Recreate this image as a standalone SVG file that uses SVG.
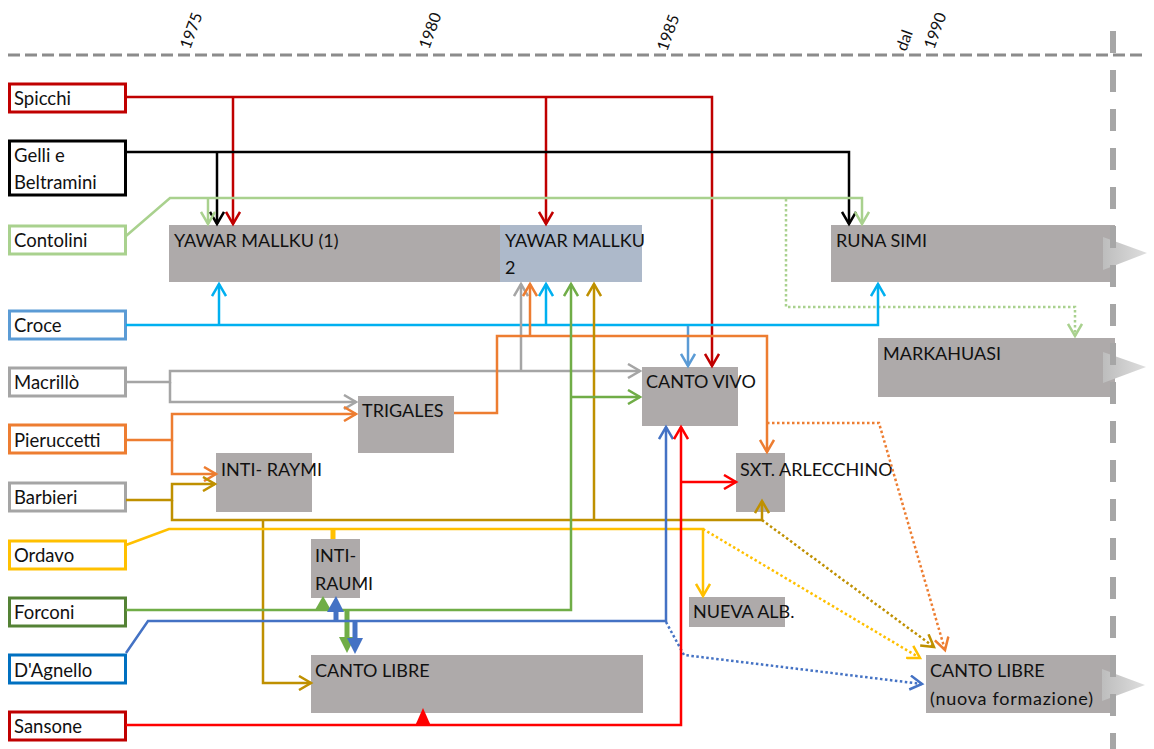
<svg xmlns="http://www.w3.org/2000/svg" width="1154" height="749" viewBox="0 0 1154 749">
<style>
text{font-family:Lato,"Open Sans","Liberation Sans",sans-serif;fill:#111}
.lbl{font-size:18.5px}
.bt{font-size:18px}
.yr{font-size:16px}
.src{fill:#fff;stroke-width:3}
.band{fill:#aeaaaa}
.c{fill:none;stroke-width:2.5}
.dot{stroke-dasharray:2.5 2.5}
</style>
<defs>
<linearGradient id="tg" x1="0" y1="0" x2="1" y2="0"><stop offset="0" stop-color="#bdbdbd"/><stop offset="1" stop-color="#dedede"/></linearGradient>
<marker id="m-dr" markerUnits="userSpaceOnUse" markerWidth="16" markerHeight="16" refX="13" refY="8" orient="auto" viewBox="0 0 16 16"><path d="M1,1 L13,8 L1,15" fill="none" stroke="#c00000" stroke-width="2.5"/></marker>
<marker id="m-bk" markerUnits="userSpaceOnUse" markerWidth="16" markerHeight="16" refX="13" refY="8" orient="auto" viewBox="0 0 16 16"><path d="M1,1 L13,8 L1,15" fill="none" stroke="#000" stroke-width="2.5"/></marker>
<marker id="m-lg" markerUnits="userSpaceOnUse" markerWidth="16" markerHeight="16" refX="13" refY="8" orient="auto" viewBox="0 0 16 16"><path d="M1,1 L13,8 L1,15" fill="none" stroke="#a9d18e" stroke-width="2.5"/></marker>
<marker id="m-cy" markerUnits="userSpaceOnUse" markerWidth="16" markerHeight="16" refX="13" refY="8" orient="auto" viewBox="0 0 16 16"><path d="M1,1 L13,8 L1,15" fill="none" stroke="#00b0f0" stroke-width="2.5"/></marker>
<marker id="m-lb" markerUnits="userSpaceOnUse" markerWidth="16" markerHeight="16" refX="13" refY="8" orient="auto" viewBox="0 0 16 16"><path d="M1,1 L13,8 L1,15" fill="none" stroke="#5b9bd5" stroke-width="2.5"/></marker>
<marker id="m-gy" markerUnits="userSpaceOnUse" markerWidth="16" markerHeight="16" refX="13" refY="8" orient="auto" viewBox="0 0 16 16"><path d="M1,1 L13,8 L1,15" fill="none" stroke="#a5a5a5" stroke-width="2.5"/></marker>
<marker id="m-or" markerUnits="userSpaceOnUse" markerWidth="16" markerHeight="16" refX="13" refY="8" orient="auto" viewBox="0 0 16 16"><path d="M1,1 L13,8 L1,15" fill="none" stroke="#ed7d31" stroke-width="2.5"/></marker>
<marker id="m-gd" markerUnits="userSpaceOnUse" markerWidth="16" markerHeight="16" refX="13" refY="8" orient="auto" viewBox="0 0 16 16"><path d="M1,1 L13,8 L1,15" fill="none" stroke="#bf9000" stroke-width="2.5"/></marker>
<marker id="m-ye" markerUnits="userSpaceOnUse" markerWidth="16" markerHeight="16" refX="13" refY="8" orient="auto" viewBox="0 0 16 16"><path d="M1,1 L13,8 L1,15" fill="none" stroke="#ffc000" stroke-width="2.5"/></marker>
<marker id="m-gr" markerUnits="userSpaceOnUse" markerWidth="16" markerHeight="16" refX="13" refY="8" orient="auto" viewBox="0 0 16 16"><path d="M1,1 L13,8 L1,15" fill="none" stroke="#70ad47" stroke-width="2.5"/></marker>
<marker id="m-bl" markerUnits="userSpaceOnUse" markerWidth="16" markerHeight="16" refX="13" refY="8" orient="auto" viewBox="0 0 16 16"><path d="M1,1 L13,8 L1,15" fill="none" stroke="#4472c4" stroke-width="2.5"/></marker>
<marker id="m-rd" markerUnits="userSpaceOnUse" markerWidth="16" markerHeight="16" refX="13" refY="8" orient="auto" viewBox="0 0 16 16"><path d="M1,1 L13,8 L1,15" fill="none" stroke="#ff0000" stroke-width="2.5"/></marker>
</defs>

<g id="axis">
<line x1="8" y1="55" x2="1145" y2="55" stroke="#8c8c8c" stroke-width="3" stroke-dasharray="12 5"/>
<text class="yr" transform="translate(190,50) rotate(-70)">1975</text>
<text class="yr" transform="translate(429,50) rotate(-70)">1980</text>
<text class="yr" transform="translate(667,52) rotate(-70)">1985</text>
<text class="yr" transform="translate(906,52) rotate(-70)">dal</text>
<text class="yr" transform="translate(934,50) rotate(-70)">1990</text>
</g>

<g id="bands">
<g id="yawar1"><rect class="band" x="169" y="225" width="331" height="57"/><text class="bt" x="174" y="247">YAWAR MALLKU (1)</text></g>
<g id="yawar2"><rect x="500" y="225" width="142" height="57" fill="#adb9ca"/><text class="bt" x="505" y="247">YAWAR MALLKU</text><text class="bt" x="505" y="274">2</text></g>
<g id="runasimi"><rect class="band" x="831" y="225" width="284" height="57"/><text class="bt" x="836" y="247">RUNA SIMI</text><polygon points="1103,237 1147,253 1103,270" fill="url(#tg)"/></g>
<g id="markahuasi"><rect class="band" x="878" y="338" width="237" height="59"/><text class="bt" x="883" y="360">MARKAHUASI</text><polygon points="1103,352 1146,367 1103,383" fill="url(#tg)"/></g>
<g id="cantovivo"><rect class="band" x="642" y="367" width="96" height="59"/><text class="bt" x="646" y="388">CANTO VIVO</text></g>
<g id="trigales"><rect class="band" x="358" y="396" width="96" height="57"/><text class="bt" x="362" y="417">TRIGALES</text></g>
<g id="intiraymi"><rect class="band" x="216" y="453" width="96" height="59"/><text class="bt" x="221" y="476">INTI- RAYMI</text></g>
<g id="arlecchino"><rect class="band" x="736" y="453" width="49" height="59"/><text class="bt" x="740" y="476">SXT. ARLECCHINO</text></g>
<g id="intiraumi"><rect class="band" x="311" y="539" width="49" height="59"/><text class="bt" x="315" y="562">INTI-</text><text class="bt" x="315" y="590">RAUMI</text></g>
<g id="nuevaalb"><rect class="band" x="689" y="597" width="96" height="30"/><text class="bt" x="693" y="618">NUEVA ALB.</text></g>
<g id="cantolibre"><rect class="band" x="311" y="655" width="332" height="58"/><text class="bt" x="315" y="677">CANTO LIBRE</text></g>
<g id="cantolibre2"><rect class="band" x="926" y="655" width="187" height="58"/><text class="bt" x="930" y="677">CANTO LIBRE</text><text class="bt" x="930" y="705" textLength="163" lengthAdjust="spacing">(nuova formazione)</text><polygon points="1102,669 1145,685 1102,701" fill="url(#tg)"/></g>
</g>

<g id="sources">
<g id="spicchi"><rect class="src" x="9.5" y="84" width="116" height="28" stroke="#c00000"/><text class="lbl" x="14" y="105">Spicchi</text></g>
<g id="gelli"><rect class="src" x="9.5" y="141" width="116" height="54" stroke="#000"/><text class="lbl" x="14" y="162">Gelli e</text><text class="lbl" x="14" y="189">Beltramini</text></g>
<g id="contolini"><rect class="src" x="9.5" y="226" width="116" height="28" stroke="#a9d18e"/><text class="lbl" x="14" y="247">Contolini</text></g>
<g id="croce"><rect class="src" x="9.5" y="311" width="116" height="28" stroke="#5b9bd5"/><text class="lbl" x="14" y="332">Croce</text></g>
<g id="macrillo"><rect class="src" x="9.5" y="368" width="116" height="28" stroke="#a5a5a5"/><text class="lbl" x="14" y="389">Macrillò</text></g>
<g id="pieruccetti"><rect class="src" x="9.5" y="425" width="116" height="28" stroke="#ed7d31"/><text class="lbl" x="14" y="447">Pieruccetti</text></g>
<g id="barbieri"><rect class="src" x="9.5" y="483" width="116" height="28" stroke="#a5a5a5"/><text class="lbl" x="14" y="504">Barbieri</text></g>
<g id="ordavo"><rect class="src" x="9.5" y="541" width="116" height="28" stroke="#ffc000"/><text class="lbl" x="14" y="562">Ordavo</text></g>
<g id="forconi"><rect class="src" x="9.5" y="598" width="116" height="28" stroke="#548235"/><text class="lbl" x="14" y="619">Forconi</text></g>
<g id="dagnello"><rect class="src" x="9.5" y="655" width="116" height="28" stroke="#0070c0"/><text class="lbl" x="14" y="677">D'Agnello</text></g>
<g id="sansone"><rect class="src" x="9.5" y="712" width="116" height="28" stroke="#c00000"/><text class="lbl" x="14" y="733">Sansone</text></g>
</g>

<g id="connectors">
<path class="c" stroke="#c00000" d="M126,97 H712 V366" marker-end="url(#m-dr)"/>
<path class="c" stroke="#c00000" d="M233,97 V224" marker-end="url(#m-dr)"/>
<path class="c" stroke="#c00000" d="M546,97 V224" marker-end="url(#m-dr)"/>
<path class="c" stroke="#000" d="M126,152 H849 V224" marker-end="url(#m-bk)"/>
<path class="c" stroke="#000" d="M217,152 V224" marker-end="url(#m-bk)"/>
<path class="c" stroke="#a9d18e" d="M126,236 L170,198 H862 V224" marker-end="url(#m-lg)"/>
<path class="c" stroke="#a9d18e" d="M208,198 V224" marker-end="url(#m-lg)"/>
<path class="c dot" stroke="#a9d18e" d="M786,199 V307 H1075 V336" marker-end="url(#m-lg)"/>
<path class="c" stroke="#00b0f0" d="M126,325 H878 V284" marker-end="url(#m-cy)"/>
<path class="c" stroke="#00b0f0" d="M219,325 V284" marker-end="url(#m-cy)"/>
<path class="c" stroke="#00b0f0" d="M546,325 V284" marker-end="url(#m-cy)"/>
<path class="c" stroke="#5b9bd5" d="M688,326 V366" marker-end="url(#m-lb)"/>
<path class="c" stroke="#a5a5a5" d="M126,382 H170 V371 H640" marker-end="url(#m-gy)"/>
<path class="c" stroke="#a5a5a5" d="M170,382 V402 H356" marker-end="url(#m-gy)"/>
<path class="c" stroke="#a5a5a5" d="M521,371 V284" marker-end="url(#m-gy)"/>
<path class="c" stroke="#ed7d31" d="M126,440 H172 V414 H356" marker-end="url(#m-or)"/>
<path class="c" stroke="#ed7d31" d="M172,440 V474 H216" marker-end="url(#m-or)"/>
<path class="c" stroke="#ed7d31" d="M454,413 H497 V336 H767 V452" marker-end="url(#m-or)"/>
<path class="c" stroke="#ed7d31" d="M530,336 V284" marker-end="url(#m-or)"/>
<path class="c dot" stroke="#ed7d31" d="M767,423 H879 L945,650" marker-end="url(#m-or)"/>
<path class="c" stroke="#bf9000" d="M126,500 H172 V484 H215" marker-end="url(#m-gd)"/>
<path class="c" stroke="#bf9000" d="M172,500 V520 H762 V501" marker-end="url(#m-gd)"/>
<path class="c" stroke="#bf9000" d="M594,520 V284" marker-end="url(#m-gd)"/>
<path class="c" stroke="#bf9000" d="M263,520 V683 H311" marker-end="url(#m-gd)"/>
<path class="c dot" stroke="#bf9000" d="M762,520 L934,647" marker-end="url(#m-gd)"/>
<path class="c" stroke="#ffc000" d="M126,545 L169,529 H703 V596" marker-end="url(#m-ye)"/>
<path stroke="#ffc000" stroke-width="5" d="M333,529 V539"/>
<path class="c dot" stroke="#ffc000" d="M703,529 L920,658" marker-end="url(#m-ye)"/>
<path class="c" stroke="#70ad47" d="M126,610 H571 V284" marker-end="url(#m-gr)"/>
<path class="c" stroke="#70ad47" d="M571,397 H640" marker-end="url(#m-gr)"/>
<polygon points="315,610 331,610 323,596" fill="#70ad47"/>
<path stroke="#70ad47" stroke-width="5" d="M347,611 V638"/>
<polygon points="339,637 355,637 347,653" fill="#70ad47"/>
<path class="c" stroke="#4472c4" d="M126,653 L148,621 H666 V427" marker-end="url(#m-bl)"/>
<path class="c dot" stroke="#4472c4" d="M666,622 L684,655 L922,684" marker-end="url(#m-bl)"/>
<path stroke="#4472c4" stroke-width="5" d="M336,611 V622"/>
<polygon points="327,612 344,612 336,596" fill="#4472c4"/>
<path stroke="#4472c4" stroke-width="5" d="M355,622 V640"/>
<polygon points="347,638 363,638 355,654" fill="#4472c4"/>
<path class="c" stroke="#ff0000" d="M126,725 H681 V427" marker-end="url(#m-rd)"/>
<path class="c" stroke="#ff0000" d="M681,482 H736" marker-end="url(#m-rd)"/>
<polygon points="415,726 431,726 423,708" fill="#ff0000"/>
</g>

<line id="limit" x1="1113" y1="31" x2="1113" y2="749" stroke="#a6a6a6" stroke-width="6" stroke-dasharray="22 17"/>
</svg>
